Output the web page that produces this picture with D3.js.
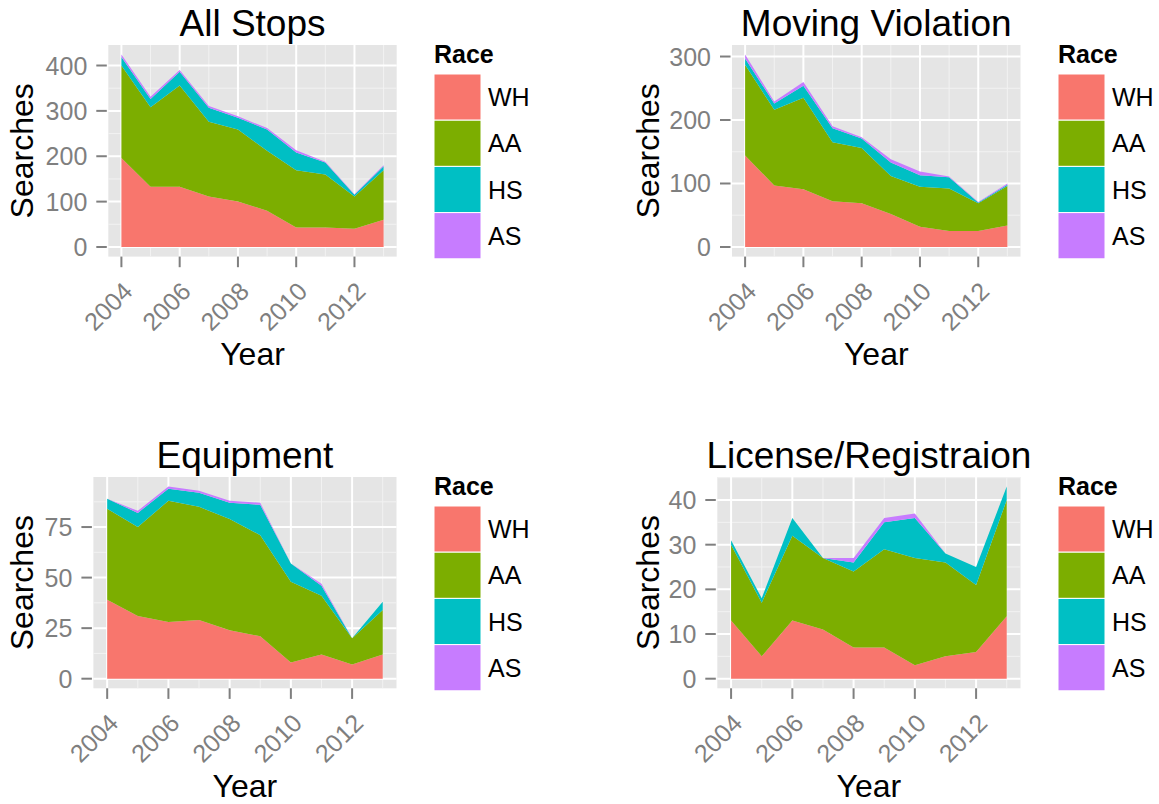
<!DOCTYPE html>
<html><head><meta charset="utf-8">
<script src="https://cdn.jsdelivr.net/npm/d3@7"></script>
<style>
body{margin:0;background:#fff}
svg{display:block}
text{font-family:"Liberation Sans",Arial,Helvetica,sans-serif}
</style>
</head><body>
<svg id="chart" width="1159" height="804"></svg>
<script>
// ---------------- data ----------------
const years = [2004, 2005, 2006, 2007, 2008, 2009, 2010, 2011, 2012, 2013];
const races = ["WH", "AA", "HS", "AS"];
const raceColors = ["#F8766D", "#7CAE00", "#00BFC4", "#C77CFF"];
const xTicks = [2004, 2006, 2008, 2010, 2012];
const panelTitles = ["All Stops", "Moving Violation", "Equipment", "License/Registraion"];
const legendTitle = "Race";
const xTitle = "Year";
const yTitle = "Searches";

// All Stops
const allStopsWH = [196, 133, 133, 111, 100, 80, 43, 43, 40, 60];
const allStopsAA = [204, 175, 223, 165, 159, 132, 126, 117, 71, 109];
const allStopsHS = [19, 18, 30, 31, 26, 47, 39, 26, 4, 9];
const allStopsAS = [5, 5, 4, 4, 3, 3, 5, 2, 1, 2];
const allStopsTicks = [0, 100, 200, 300, 400];

// Moving Violation
const movingWH = [144, 97, 91, 72, 69, 52, 32, 25, 25, 34];
const movingAA = [143, 119, 144, 93, 87, 60, 63, 67, 44, 62];
const movingHS = [10, 10, 19, 22, 15, 21, 18, 18, 1, 2];
const movingAS = [6, 3, 6, 3, 2, 5, 6, 1, 1, 2];
const movingTicks = [0, 100, 200, 300];

// Equipment
const equipWH = [39, 31, 28, 29, 24, 21, 8, 12, 7, 12];
const equipAA = [45, 44, 60, 56, 55, 50, 40, 29, 13, 22];
const equipHS = [5, 7, 6, 7, 8, 15, 9, 5, 0, 4];
const equipAS = [0, 1, 1, 1, 1, 1, 0, 1, 0, 0];
const equipTicks = [0, 25, 50, 75];

// License/Registration
const licenseWH = [13, 5, 13, 11, 7, 7, 3, 5, 6, 14];
const licenseAA = [17, 12, 19, 16, 17, 22, 24, 21, 15, 26];
const licenseHS = [1, 1, 4, 0, 2, 6, 9, 2, 4, 3];
const licenseAS = [0, 0, 0, 0, 1, 1, 1, 0, 0, 0];
const licenseTicks = [0, 10, 20, 30, 40];

// ---------------- layout ----------------
const panels = [
  {title: panelTitles[0], series: [allStopsWH, allStopsAA, allStopsHS, allStopsAS], ticks: allStopsTicks,
   box: {l: 108.3, r: 396.7, t: 45, b: 256.6}, yTitleX: 33, legend: {x: 434, y: 74}},
  {title: panelTitles[1], series: [movingWH, movingAA, movingHS, movingAS], ticks: movingTicks,
   box: {l: 732, r: 1020.5, t: 45, b: 256.6}, yTitleX: 659, legend: {x: 1058, y: 74}},
  {title: panelTitles[2], series: [equipWH, equipAA, equipHS, equipAS], ticks: equipTicks,
   box: {l: 93.4, r: 396.5, t: 477, b: 688.3}, yTitleX: 33, legend: {x: 434, y: 506}},
  {title: panelTitles[3], series: [licenseWH, licenseAA, licenseHS, licenseAS], ticks: licenseTicks,
   box: {l: 717.3, r: 1020.5, t: 477, b: 688.3}, yTitleX: 659, legend: {x: 1058, y: 506}}
];

const svg = d3.select("#chart");
const grey50 = "#7F7F7F";

panels.forEach(p => {
  const g = svg.append("g");
  const rows = years.map((yr, i) => {
    const o = {year: yr};
    races.forEach((r, k) => o[r] = p.series[k][i]);
    return o;
  });
  const stacked = d3.stack().keys(races)(rows);
  const maxV = d3.max(stacked[stacked.length - 1], d => d[1]);
  const x = d3.scaleLinear()
    .domain([years[0] - 0.45, years[years.length - 1] + 0.45])
    .range([p.box.l, p.box.r]);
  const y = d3.scaleLinear()
    .domain([-0.05 * maxV, 1.05 * maxV])
    .range([p.box.b, p.box.t]);

  // background
  g.append("rect")
    .attr("x", p.box.l).attr("y", p.box.t)
    .attr("width", p.box.r - p.box.l).attr("height", p.box.b - p.box.t)
    .attr("fill", "#E5E5E5");

  // minor grid
  const [y0d, y1d] = y.domain();
  const step = p.ticks[1] - p.ticks[0];
  const yMinor = [];
  for (let v = p.ticks[0] - step / 2; v <= y1d; v += step) if (v >= y0d) yMinor.push(v);
  const xMinor = [];
  for (let v = xTicks[0] - 1; v <= x.domain()[1]; v += 2) if (v >= x.domain()[0]) xMinor.push(v);
  g.selectAll(".ymin").data(yMinor).enter().append("line")
    .attr("x1", p.box.l).attr("x2", p.box.r)
    .attr("y1", d => y(d)).attr("y2", d => y(d))
    .attr("stroke", "#F2F2F2").attr("stroke-width", 1);
  g.selectAll(".xmin").data(xMinor).enter().append("line")
    .attr("y1", p.box.t).attr("y2", p.box.b)
    .attr("x1", d => x(d)).attr("x2", d => x(d))
    .attr("stroke", "#F2F2F2").attr("stroke-width", 1);
  // major grid
  g.selectAll(".ymaj").data(p.ticks).enter().append("line")
    .attr("x1", p.box.l).attr("x2", p.box.r)
    .attr("y1", d => y(d)).attr("y2", d => y(d))
    .attr("stroke", "#FFFFFF").attr("stroke-width", 2);
  g.selectAll(".xmaj").data(xTicks).enter().append("line")
    .attr("y1", p.box.t).attr("y2", p.box.b)
    .attr("x1", d => x(d)).attr("x2", d => x(d))
    .attr("stroke", "#FFFFFF").attr("stroke-width", 2);

  // areas
  const area = d3.area()
    .x(d => x(d.data.year))
    .y0(d => y(d[0]))
    .y1(d => y(d[1]));
  g.selectAll(".area").data(stacked).enter().append("path")
    .attr("d", area)
    .attr("fill", (d, i) => raceColors[i]);

  // y axis ticks + labels
  g.selectAll(".ytick").data(p.ticks).enter().append("line")
    .attr("x1", p.box.l - 12).attr("x2", p.box.l - 1.5)
    .attr("y1", d => y(d)).attr("y2", d => y(d))
    .attr("stroke", grey50).attr("stroke-width", 2);
  g.selectAll(".ylab").data(p.ticks).enter().append("text")
    .attr("x", p.box.l - 21).attr("y", d => y(d)).attr("dy", "0.36em")
    .attr("text-anchor", "end").attr("font-size", 25).attr("fill", grey50)
    .text(d => d);

  // x axis ticks + labels
  g.selectAll(".xtick").data(xTicks).enter().append("line")
    .attr("y1", p.box.b).attr("y2", p.box.b + 10.6)
    .attr("x1", d => x(d)).attr("x2", d => x(d))
    .attr("stroke", grey50).attr("stroke-width", 2);
  g.selectAll(".xlab").data(xTicks).enter().append("text")
    .attr("transform", d => `translate(${x(d) + 12.7},${p.box.b + 36.4}) rotate(-45)`)
    .attr("text-anchor", "end").attr("font-size", 25).attr("fill", grey50)
    .text(d => d);

  // axis titles
  g.append("text")
    .attr("x", (p.box.l + p.box.r) / 2).attr("y", p.box.b + 108.5)
    .attr("text-anchor", "middle").attr("font-size", 32).attr("fill", "#000")
    .text(xTitle);
  g.append("text")
    .attr("transform", `translate(${p.yTitleX},${(p.box.t + p.box.b) / 2}) rotate(-90)`)
    .attr("text-anchor", "middle").attr("font-size", 32).attr("fill", "#000")
    .text(yTitle);

  // plot title
  g.append("text")
    .attr("x", (p.box.l + p.box.r) / 2).attr("y", p.box.t - 9)
    .attr("text-anchor", "middle").attr("font-size", 37).attr("fill", "#000")
    .text(p.title);

  // legend
  const keyW = 47, keyH = 46.2;
  const lg = g.append("g");
  lg.append("text")
    .attr("x", p.legend.x).attr("y", p.legend.y - 10.7)
    .attr("font-size", 25).attr("font-weight", "bold").attr("fill", "#000")
    .text(legendTitle);
  lg.selectAll(".key").data(races).enter().append("rect")
    .attr("x", p.legend.x).attr("y", (d, i) => p.legend.y + i * keyH)
    .attr("width", keyW).attr("height", keyH)
    .attr("fill", (d, i) => raceColors[i])
    .attr("stroke", "#FFFFFF").attr("stroke-width", 1);
  lg.selectAll(".klab").data(races).enter().append("text")
    .attr("x", p.legend.x + keyW + 7)
    .attr("y", (d, i) => p.legend.y + i * keyH + keyH / 2)
    .attr("dy", "0.36em")
    .attr("font-size", 25).attr("fill", "#000")
    .text(d => d);
});
</script>
</body></html>
